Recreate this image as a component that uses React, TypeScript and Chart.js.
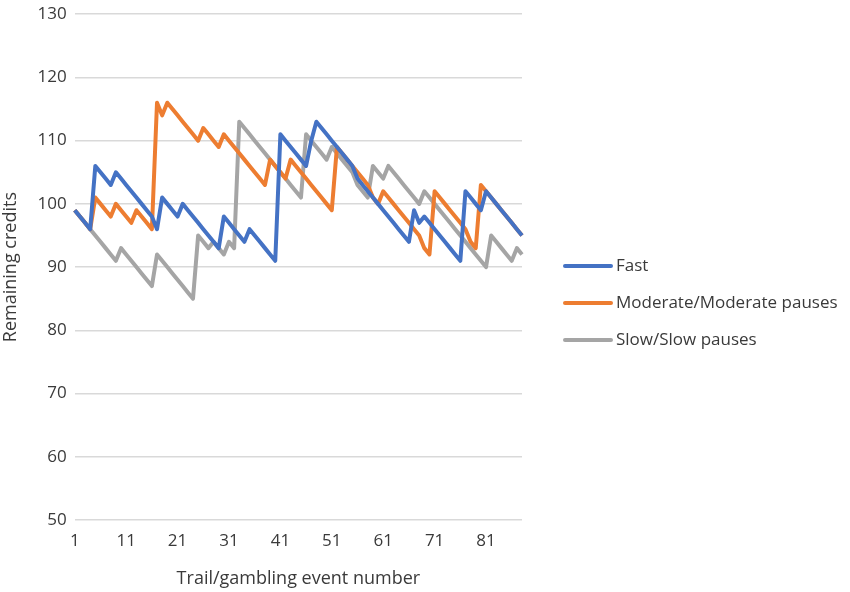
import React, { useEffect, useRef } from 'react';
import { Chart, registerables, Plugin } from 'chart.js';

Chart.register(...registerables);

// event numbers 1..88
const events: string[] = Array.from({ length: 88 }, (_, i) => String(i + 1));

const seriesNames = ['Fast', 'Moderate/Moderate pauses', 'Slow/Slow pauses'];
const seriesColors = ['#4472C4', '#ED7D31', '#A5A5A5'];

const fast = [
  99, 98, 97, 96, 106, 105, 104, 103, 105, 104,
  103, 102, 101, 100, 99, 98, 96, 101, 100, 99,
  98, 100, 99, 98, 97, 96, 95, 94, 93, 98,
  97, 96, 95, 94, 96, 95, 94, 93, 92, 91,
  111, 110, 109, 108, 107, 106, 110, 113, 112, 111,
  110, 109, 108, 107, 106, 104, 103, 102, 101, 100,
  99, 98, 97, 96, 95, 94, 99, 97, 98, 97,
  96, 95, 94, 93, 92, 91, 102, 101, 100, 99,
  102, 101, 100, 99, 98, 97, 96, 95,
];

const moderate = [
  99, 98, 97, 96, 101, 100, 99, 98, 100, 99,
  98, 97, 99, 98, 97, 96, 116, 114, 116, 115,
  114, 113, 112, 111, 110, 112, 111, 110, 109, 111,
  110, 109, 108, 107, 106, 105, 104, 103, 107, 106,
  105, 104, 107, 106, 105, 104, 103, 102, 101, 100,
  99, 109, 108, 107, 106, 105, 104, 103, 101, 100,
  102, 101, 100, 99, 98, 97, 96, 95, 93, 92,
  102, 101, 100, 99, 98, 97, 96, 94, 93, 103,
  102, 101, 100, 99, 98, 97, 96, 95,
];

const slow = [
  99, 98, 97, 96, 95, 94, 93, 92, 91, 93,
  92, 91, 90, 89, 88, 87, 92, 91, 90, 89,
  88, 87, 86, 85, 95, 94, 93, 94, 93, 92,
  94, 93, 113, 112, 111, 110, 109, 108, 107, 106,
  105, 104, 103, 102, 101, 111, 110, 109, 108, 107,
  109, 108, 107, 106, 105, 103, 102, 101, 106, 105,
  104, 106, 105, 104, 103, 102, 101, 100, 102, 101,
  100, 99, 98, 97, 96, 95, 94, 93, 92, 91,
  90, 95, 94, 93, 92, 91, 93, 92,
];

const yMin = 50;
const yMax = 130;
const yStep = 10;

const textColor = '#3a3a3a';
const fontFamily = '"Open Sans", sans-serif';

// canvas is drawn a little taller and pulled up so the top gridline sits near the edge
const topShift = 4;

// legend on the right, Excel style (line sample + label)
const sideLegend: Plugin<'line'> = {
  id: 'sideLegend',
  afterDraw(chart) {
    const ctx = chart.ctx;
    const x0 = 565;
    const y0 = 266 + topShift;
    const gap = 37;
    ctx.save();
    ctx.font = `17px ${fontFamily}`;
    ctx.textBaseline = 'middle';
    ctx.textAlign = 'left';
    chart.data.datasets.forEach((ds, i) => {
      const y = y0 + i * gap;
      ctx.strokeStyle = ds.borderColor as string;
      ctx.lineWidth = 4;
      ctx.lineCap = 'round';
      ctx.beginPath();
      ctx.moveTo(x0, y);
      ctx.lineTo(x0 + 46, y);
      ctx.stroke();
      ctx.fillStyle = textColor;
      ctx.fillText(ds.label ?? '', x0 + 51, y);
    });
    ctx.restore();
  },
};

const App: React.FC = () => {
  const canvasRef = useRef<HTMLCanvasElement>(null);

  useEffect(() => {
    document.body.style.margin = '0';
    const ctx = canvasRef.current?.getContext('2d');
    if (!ctx) return;

    const seriesData = [fast, moderate, slow];

    const chart = new Chart(ctx, {
      type: 'line',
      data: {
        labels: events,
        datasets: seriesData.map((d, i) => ({
          label: seriesNames[i],
          data: d,
          borderColor: seriesColors[i],
          backgroundColor: seriesColors[i],
          borderWidth: 4,
          pointRadius: 0,
          tension: 0,
          borderJoinStyle: 'round' as const,
        })),
      },
      options: {
        responsive: false,
        animation: false,
        layout: {
          padding: { top: 0, right: 328, bottom: 2, left: 0 },
        },
        plugins: {
          legend: { display: false },
          tooltip: { enabled: false },
        },
        scales: {
          x: {
            offset: false,
            grid: { display: false },
            border: { display: false },
            ticks: {
              autoSkip: false,
              maxRotation: 0,
              color: textColor,
              font: { size: 17, family: fontFamily },
              callback: (_v, index) => (index % 10 === 0 ? events[index] : ''),
            },
            title: {
              display: true,
              text: 'Trail/gambling event number',
              color: textColor,
              font: { size: 18, family: fontFamily },
              padding: { top: 14, bottom: 0 },
            },
          },
          y: {
            min: yMin,
            max: yMax,
            grid: { color: '#d9d9d9', lineWidth: 1.5, drawTicks: false },
            border: { display: false },
            ticks: {
              stepSize: yStep,
              padding: 8,
              color: textColor,
              font: { size: 17, family: fontFamily },
            },
            title: {
              display: true,
              text: 'Remaining credits',
              color: textColor,
              font: { size: 18, family: fontFamily },
              padding: { top: 0, bottom: 8 },
            },
          },
        },
      },
      plugins: [sideLegend],
    });

    return () => {
      chart.destroy();
    };
  }, []);

  return (
    <div style={{ width: 850, height: 592, background: '#fff', overflow: 'hidden' }}>
      <canvas
        ref={canvasRef}
        width={850}
        height={592 + topShift}
        style={{ display: 'block', marginTop: -topShift }}
      />
    </div>
  );
};

export default App;
